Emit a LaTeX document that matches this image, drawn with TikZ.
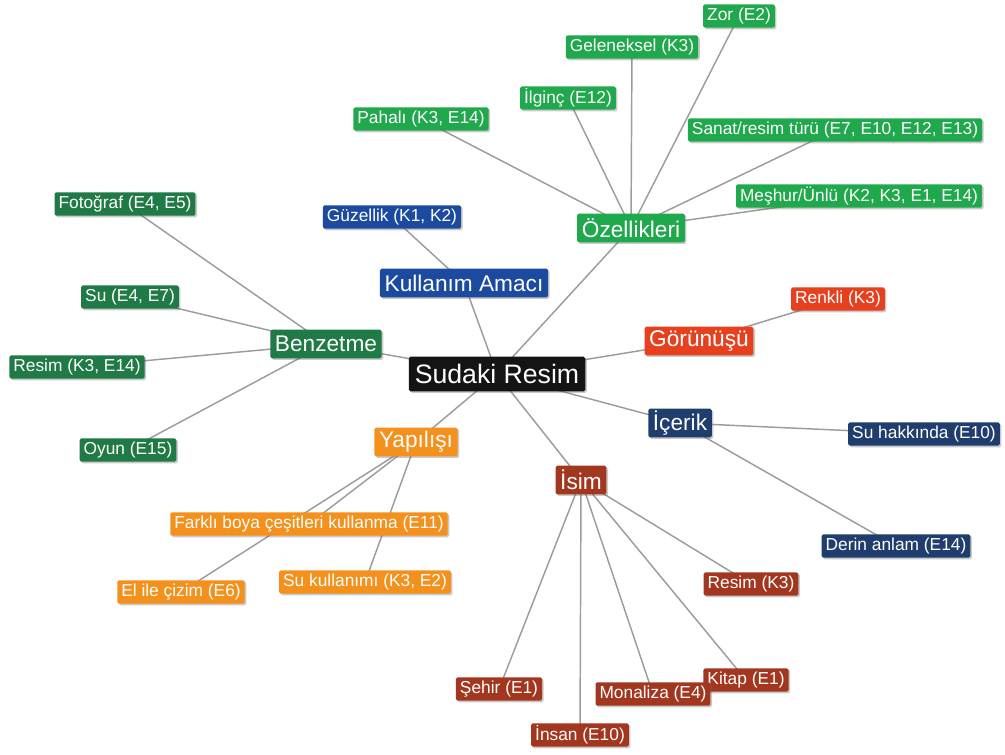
\documentclass[tikz,border=0pt]{standalone}
\usepackage{fontspec}
\setmainfont{Liberation Sans}
\usetikzlibrary{shadows}
\pgfdeclarelayer{background}
\pgfsetlayers{background,main}

\definecolor{cblack}{HTML}{141414}
\definecolor{cblue}{HTML}{1B4A9F}
\definecolor{cnavy}{HTML}{1F3E6D}
\definecolor{cgreen}{HTML}{1FA84C}
\definecolor{cdgreen}{HTML}{1F7A45}
\definecolor{cred}{HTML}{E6401E}
\definecolor{cbrown}{HTML}{A3361F}
\definecolor{corange}{HTML}{F4901C}
\definecolor{cline}{HTML}{9C9C9C}

\tikzset{
  box/.style={text=white, rounded corners=1.2pt, anchor=center,
    drop shadow={shadow xshift=1.2pt, shadow yshift=-1.2pt, opacity=0.35, fill=black!60}},
  leaf/.style={box, font=\fontsize{13}{15}\selectfont, inner xsep=3pt, inner ysep=0pt,
    minimum height=17.5pt},
  hub/.style={box, font=\fontsize{17}{20}\selectfont, inner xsep=3.5pt, inner ysep=0pt,
    minimum height=21.5pt},
  root/.style={box, font=\fontsize{20}{24}\selectfont, inner xsep=4.5pt, inner ysep=0pt,
    minimum height=26pt, fill=cblack},
  link/.style={draw=cline, line width=1.1pt}
}

\begin{document}
\begin{tikzpicture}[x=0.75pt, y=-0.75pt]
\useasboundingbox (0,0) rectangle (1005,754);

% centre
\node[root] (root) at (497,374) {Sudaki Resim};

% Kullanım Amacı
\node[hub, fill=cblue] (kul) at (464,283) {Kullanım Amacı};
\node[leaf, fill=cblue] (guz) at (392,217) {Güzellik (K1, K2)};

% Özellikleri
\node[hub, fill=cgreen] (oz) at (631,228) {Özellikleri};
\node[leaf, fill=cgreen] (zor) at (739,16) {Zor (E2)};
\node[leaf, fill=cgreen] (gel) at (632,47) {Geleneksel (K3)};
\node[leaf, fill=cgreen] (ilg) at (568,98) {İlginç (E12)};
\node[leaf, fill=cgreen] (pah) at (421,119) {Pahalı (K3, E14)};
\node[leaf, fill=cgreen] (san) at (835,130) {Sanat/resim türü (E7, E10, E12, E13)};
\node[leaf, fill=cgreen] (mes) at (859,196) {Meşhur/Ünlü (K2, K3, E1, E14)};

% Görünüşü
\node[hub, fill=cred] (gor) at (699,341) {Görünüşü};
\node[leaf, fill=cred] (ren) at (838,299) {Renkli (K3)};

% İçerik
\node[hub, fill=cnavy] (ice) at (680,423) {İçerik};
\node[leaf, fill=cnavy] (suh) at (924,434) {Su hakkında (E10)};
\node[leaf, fill=cnavy] (der) at (896,546) {Derin anlam (E14)};

% İsim
\node[hub, fill=cbrown] (isim) at (581,480) {İsim};
\node[leaf, fill=cbrown] (res3) at (751,584) {Resim (K3)};
\node[leaf, fill=cbrown] (seh) at (499,689) {Şehir (E1)};
\node[leaf, fill=cbrown] (ins) at (580,735) {İnsan (E10)};
\node[leaf, fill=cbrown] (kit) at (746,680) {Kitap (E1)};
\node[leaf, fill=cbrown] (mon) at (653,694) {Monaliza (E4)};

% Benzetme
\node[hub, fill=cdgreen] (ben) at (326,344) {Benzetme};
\node[leaf, fill=cdgreen] (fot) at (125,204) {Fotoğraf (E4, E5)};
\node[leaf, fill=cdgreen] (su) at (130,297) {Su (E4, E7)};
\node[leaf, fill=cdgreen] (res) at (77,367) {Resim (K3, E14)};
\node[leaf, fill=cdgreen] (oyun) at (128,450) {Oyun (E15)};

% Yapılışı
\node[hub, fill=corange] (yap) at (416,442) {Yapılışı};
\node[leaf, fill=corange] (far) at (309,524) {Farklı boya çeşitleri kullanma (E11)};
\node[leaf, fill=corange] (el) at (181,592) {El ile çizim (E6)};
\node[leaf, fill=corange] (suk) at (365,582) {Su kullanımı (K3, E2)};

% connectors, drawn beneath the boxes
\begin{pgfonlayer}{background}
  \foreach \h in {kul,oz,gor,ice,isim,ben,yap}
    \draw[link] (root.center) -- (\h.center);
  \draw[link] (kul.center) -- (guz.center);
  \foreach \l in {zor,gel,ilg,pah,san,mes}
    \draw[link] (oz.center) -- (\l.center);
  \draw[link] (gor.center) -- (ren.center);
  \foreach \l in {suh,der}
    \draw[link] (ice.center) -- (\l.center);
  \foreach \l in {res3,seh,ins,kit,mon}
    \draw[link] (isim.center) -- (\l.center);
  \foreach \l in {fot,su,res,oyun}
    \draw[link] (ben.center) -- (\l.center);
  \foreach \l in {far,el,suk}
    \draw[link] (yap.center) -- (\l.center);
\end{pgfonlayer}
\end{tikzpicture}
\end{document}
